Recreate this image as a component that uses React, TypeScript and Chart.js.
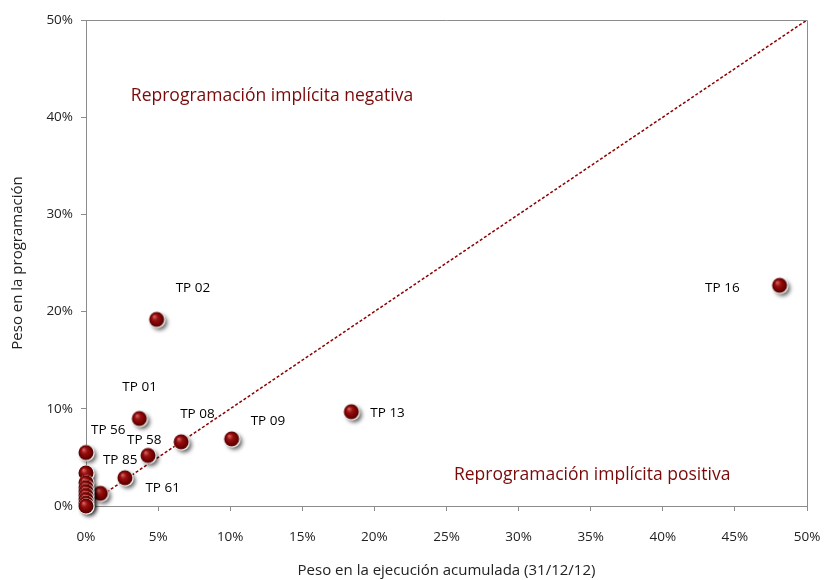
import React, { useEffect, useRef } from "react";
import { Chart, registerables } from "chart.js";

Chart.register(...registerables);

// Data (percent values)
const pointLabels = ["TP 16", "TP 13", "TP 02", "TP 01", "TP 08", "TP 09", "TP 58", "TP 85", "TP 61", "TP 56", "", "", "", "", "", "", "", ""];
const ejecucion = [48.1, 18.4, 4.9, 3.7, 6.6, 10.1, 4.3, 2.7, 1.0, 0.0, 0.0, 0.0, 0.0, 0.0, 0.0, 0.0, 0.0, 0.0];
const programacion = [22.7, 9.7, 19.2, 9.0, 6.6, 6.9, 5.2, 2.9, 1.3, 5.5, 3.4, 2.4, 1.9, 1.5, 1.1, 0.7, 0.3, 0.0];
const diagonalX = [0, 50];
const diagonalY = [0, 50];
const xTicks = [0, 5, 10, 15, 20, 25, 30, 35, 40, 45, 50];
const yTicks = [0, 10, 20, 30, 40, 50];
const xTitle = "Peso en la ejecución acumulada (31/12/12)";
const yTitle = "Peso en la programación";
const noteNegativa = "Reprogramación implícita negativa";
const notePositiva = "Reprogramación implícita positiva";

// label placement relative to point (pixels)
const labelOffsets: [number, number, CanvasTextAlign][] = [
  [-40, 3, "right"],
  [19, 1, "left"],
  [19, -31, "left"],
  [-17, -31, "left"],
  [-1, -28, "left"],
  [19, -18, "left"],
  [-21, -15, "left"],
  [-22, -18, "left"],
  [45, -5, "left"],
  [5, -22, "left"],
];

const FONT = "'Open Sans', sans-serif";

function makeSphere(): HTMLCanvasElement {
  const c = document.createElement("canvas");
  const size = 30;
  c.width = size;
  c.height = size;
  const ctx = c.getContext("2d")!;
  const cx = size / 2;
  const cy = size / 2;
  const r = 7.5;
  ctx.save();
  ctx.shadowColor = "rgba(0,0,0,0.65)";
  ctx.shadowBlur = 4;
  ctx.shadowOffsetX = 3;
  ctx.shadowOffsetY = 3;
  ctx.fillStyle = "#ffffff";
  ctx.beginPath();
  ctx.arc(cx, cy, r, 0, Math.PI * 2);
  ctx.fill();
  ctx.restore();
  ctx.fillStyle = "#f4f4f4";
  ctx.beginPath();
  ctx.arc(cx + 0.6, cy + 0.6, r + 0.6, 0, Math.PI * 2);
  ctx.fill();
  const g = ctx.createRadialGradient(cx - 2.5, cy - 3, 0.5, cx, cy, r);
  g.addColorStop(0, "#d06060");
  g.addColorStop(0.35, "#9a1010");
  g.addColorStop(0.8, "#6e0000");
  g.addColorStop(1, "#4a0000");
  ctx.fillStyle = g;
  ctx.beginPath();
  ctx.arc(cx, cy, r, 0, Math.PI * 2);
  ctx.fill();
  return c;
}

const framePlugin = {
  id: "frameAndLabels",
  afterDatasetsDraw(chart: any) {
    const { ctx, chartArea, scales } = chart;
    ctx.save();
    ctx.strokeStyle = "#8c8c8c";
    ctx.lineWidth = 1;
    ctx.beginPath();
    ctx.moveTo(chartArea.left, chartArea.top + 0.5);
    ctx.lineTo(chartArea.right + 0.5, chartArea.top + 0.5);
    ctx.lineTo(chartArea.right + 0.5, chartArea.bottom);
    ctx.stroke();

    ctx.fillStyle = "#000000";
    ctx.font = `13.5px ${FONT}`;
    ctx.textBaseline = "middle";
    for (let i = 0; i < labelOffsets.length; i++) {
      const txt = pointLabels[i];
      if (!txt) continue;
      const px = scales.x.getPixelForValue(ejecucion[i]);
      const py = scales.y.getPixelForValue(programacion[i]);
      const [dx, dy, align] = labelOffsets[i];
      ctx.textAlign = align;
      ctx.fillText(txt, px + dx, py + dy);
    }

    ctx.fillStyle = "#7a0a0a";
    ctx.font = `17.5px ${FONT}`;
    ctx.textAlign = "center";
    ctx.fillText(noteNegativa, scales.x.getPixelForValue(12.9), scales.y.getPixelForValue(42.2));
    ctx.fillText(notePositiva, scales.x.getPixelForValue(35.1), scales.y.getPixelForValue(3.2));
    ctx.restore();
  },
};

export default function App() {
  const ref = useRef<HTMLCanvasElement>(null);
  useEffect(() => {
    document.body.style.margin = "0";
    const sphere = makeSphere();
    const chart = new Chart(ref.current!, {
      type: "scatter",
      data: {
        datasets: [
          {
            type: "line",
            data: diagonalX.map((x, i) => ({ x, y: diagonalY[i] })),
            borderColor: "#8b0000",
            borderWidth: 1.5,
            borderDash: [3, 2],
            pointRadius: 0,
            fill: false,
            order: 2,
          } as any,
          {
            data: ejecucion.map((x, i) => ({ x, y: programacion[i] })),
            pointStyle: sphere as any,
            pointRadius: 8,
            clip: false,
            order: 1,
          } as any,
        ],
      },
      options: {
        responsive: false,
        animation: false,
        plugins: { legend: { display: false }, tooltip: { enabled: false } },
        layout: { padding: { top: 20, right: 18, left: 0, bottom: 0 } },
        scales: {
          x: {
            type: "linear",
            min: 0,
            max: 50,
            afterBuildTicks: (s: any) => {
              s.ticks = xTicks.map((v) => ({ value: v }));
            },
            afterFit: (s: any) => {
              s.height = 74;
              s.paddingLeft = 0;
              s.paddingRight = 0;
            },
            ticks: {
              callback: (v: any) => `${v}%`,
              color: "#222",
              font: { family: FONT, size: 13.5 },
              padding: 18,
              maxRotation: 0,
            },
            grid: { drawOnChartArea: false, tickLength: 5, color: "#8c8c8c" },
            border: { color: "#8c8c8c" },
            title: {
              display: true,
              text: xTitle,
              color: "#222",
              font: { family: FONT, size: 15 },
              padding: { top: 10, bottom: 0 },
            },
          },
          y: {
            type: "linear",
            min: 0,
            max: 50,
            afterBuildTicks: (s: any) => {
              s.ticks = yTicks.map((v) => ({ value: v }));
            },
            afterFit: (s: any) => {
              s.width = 86;
              s.paddingTop = 0;
              s.paddingBottom = 0;
            },
            ticks: {
              callback: (v: any) => `${v}%`,
              color: "#222",
              font: { family: FONT, size: 13.5 },
              padding: 8,
            },
            grid: { drawOnChartArea: false, tickLength: 5, color: "#8c8c8c" },
            border: { color: "#8c8c8c" },
            title: {
              display: true,
              text: yTitle,
              color: "#222",
              font: { family: FONT, size: 15 },
              padding: { top: 9, bottom: 6 },
            },
          },
        },
      },
      plugins: [framePlugin],
    });
    return () => chart.destroy();
  }, []);
  return (
    <div style={{ position: "absolute", left: 0, top: 0, width: 825, height: 580, background: "#fff" }}>
      <canvas ref={ref} width={825} height={580} />
    </div>
  );
}
